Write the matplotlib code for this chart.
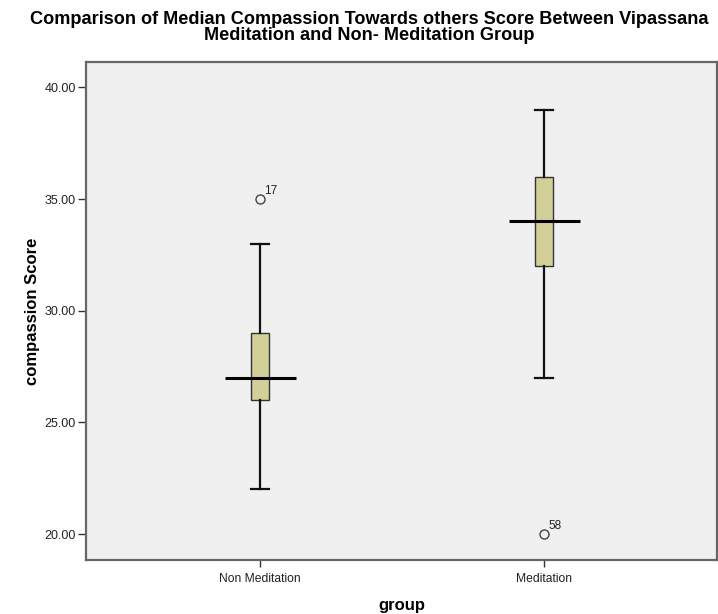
import matplotlib
matplotlib.use("Agg")
import matplotlib.pyplot as plt

plt.rcParams['font.family'] = ['Liberation Sans', 'DejaVu Sans']

# five-number summaries per group
groups = ['Non Meditation', 'Meditation']
whisker_low = [22, 27]
q1 = [26, 32]
medians = [27, 34]
q3 = [29, 36]
whisker_high = [33, 39]
outliers = [[35], [20]]
outlier_ids = [['17'], ['58']]

positions = [1, 2]
box_w = 0.063
median_w = 0.25

stats = []
for i in range(len(groups)):
    stats.append({
        'label': groups[i],
        'whislo': whisker_low[i], 'q1': q1[i], 'med': medians[i],
        'q3': q3[i], 'whishi': whisker_high[i], 'fliers': outliers[i],
    })

fig = plt.figure(figsize=(7.18, 6.14), dpi=100)
ax = fig.add_axes([86 / 718, 1 - 560 / 614, 631 / 718, 498 / 614])
ax.set_facecolor('#F0F0F0')

ax.bxp(stats, positions=positions, widths=box_w, patch_artist=True,
       boxprops=dict(facecolor='#D3CF99', edgecolor='#333333', linewidth=1.0),
       whiskerprops=dict(color='#111111', linewidth=1.6),
       capprops=dict(color='#111111', linewidth=1.6),
       capwidths=box_w,
       medianprops=dict(linewidth=0),
       flierprops=dict(marker='o', markerfacecolor='none',
                       markeredgecolor='#444444', markersize=6.5, markeredgewidth=1.0))

# long median bars reaching past the box
for p, m in zip(positions, medians):
    ax.hlines(m, p - median_w / 2, p + median_w / 2, color='black', linewidth=2.2, zorder=4)

for p, vals, ids in zip(positions, outliers, outlier_ids):
    for v, t in zip(vals, ids):
        ax.annotate(t, (p, v), xytext=(3, 4), textcoords='offset points',
                    fontsize=8.5, color='#222222')

ax.set_xlim(0.387, 2.609)
ax.set_ylim(18.84, 41.14)
ax.set_yticks([20, 25, 30, 35, 40])
ax.set_yticklabels(['%.2f' % v for v in [20, 25, 30, 35, 40]], fontsize=9, color='#222222')
ax.set_xticks(positions)
ax.set_xticklabels(groups, fontsize=8.7, color='#222222')
ax.tick_params(axis='y', direction='out', length=6, width=1, pad=1.5, color='#333333')
ax.tick_params(axis='x', direction='out', length=5, width=1, pad=4, color='#333333')

for s in ax.spines.values():
    s.set_color('#666666')
    s.set_linewidth(1.6)

ax.set_xlabel('group', fontsize=12, fontweight='bold', labelpad=10)
ax.set_ylabel('compassion Score', fontsize=12, fontweight='bold', labelpad=3)

fig.suptitle('Comparison of Median Compassion Towards others Score Between Vipassana\n'
             'Meditation and Non- Meditation Group',
             fontsize=13.1, fontweight='bold', x=0.514, y=0.982, linespacing=0.92)

fig.savefig('out.png', dpi=100, facecolor='white')
